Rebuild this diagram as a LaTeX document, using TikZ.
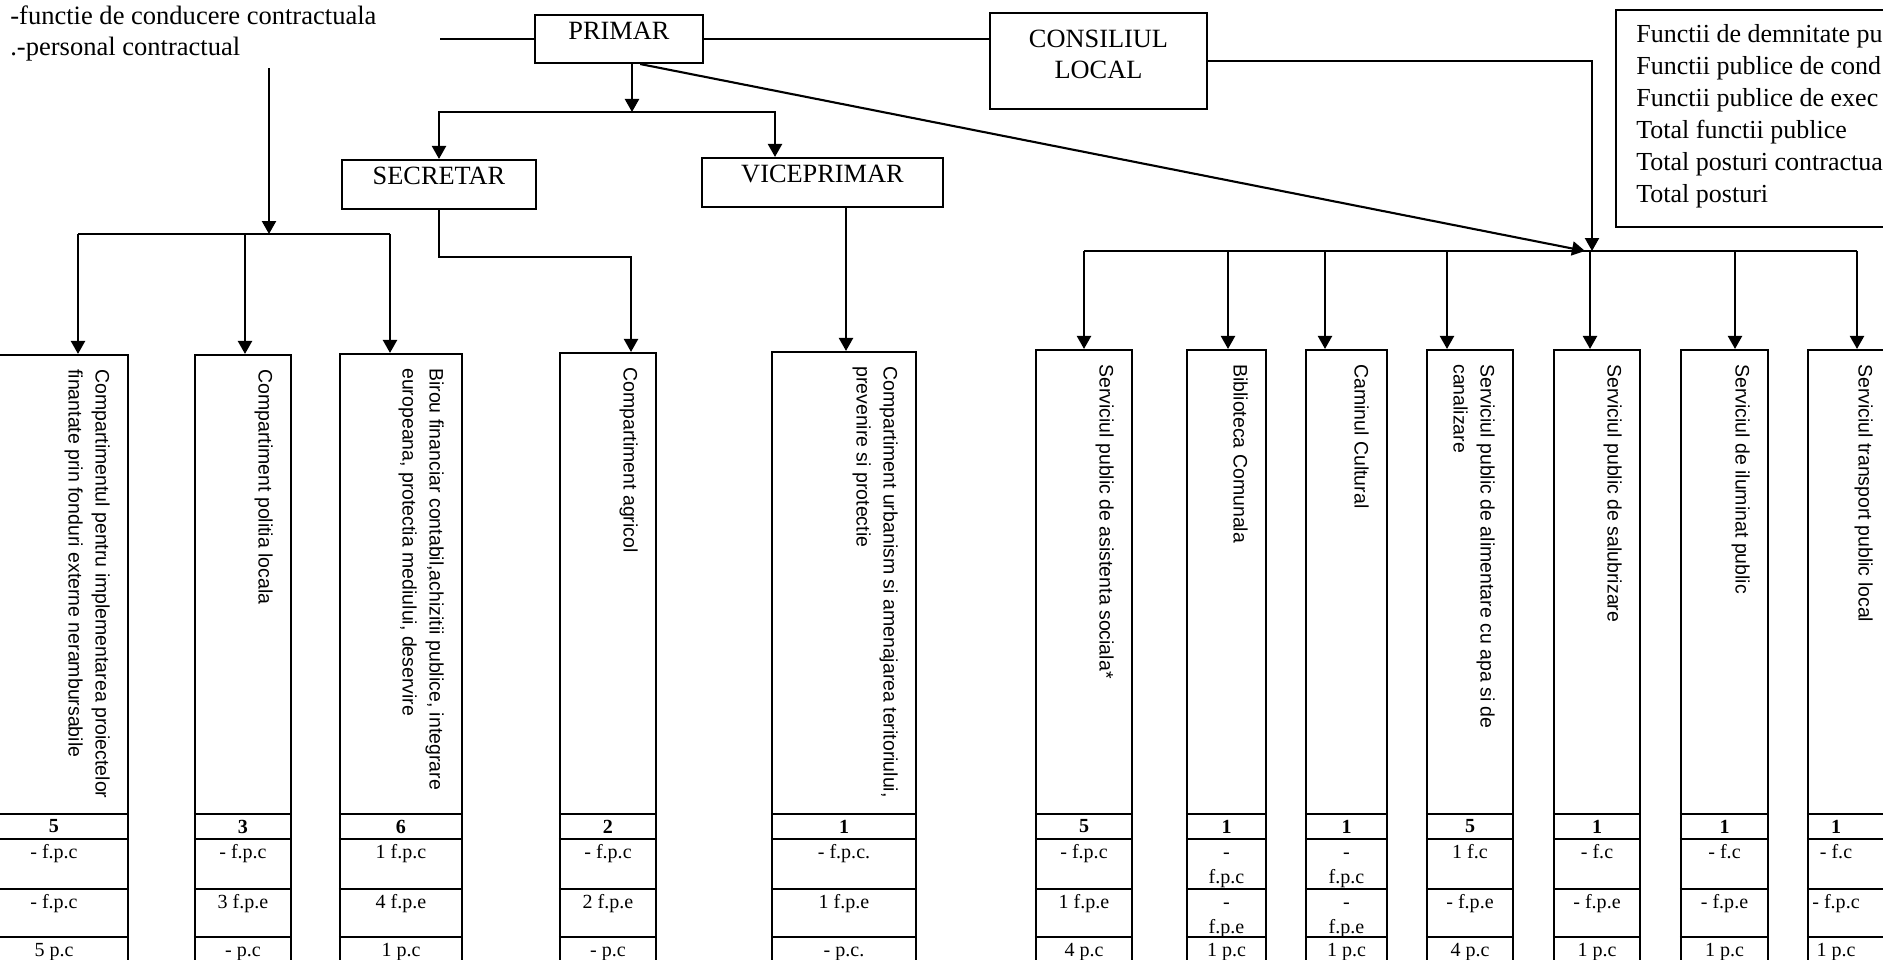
\documentclass[tikz,border=0pt]{standalone}
\usepackage{fontspec}
\setmainfont{Liberation Serif}
\newfontfamily\arialf{Liberation Sans}
\usetikzlibrary{arrows.meta,fit,calc}

\tikzset{
  ln/.style={line width=1.2pt},
  arr/.style={ln,-{Triangle[length=7.4pt,width=8pt]}},
  headbox/.style={draw,ln,inner sep=0pt,font=\fontsize{15}{17.6}\selectfont},
  unitbox/.style={draw,ln,inner sep=0pt},
  lbl/.style={rotate=-90,anchor=north west,inner sep=0pt,align=left,font=\arialf\fontsize{11.1}{15.4}\selectfont},
  numtxt/.style={inner sep=0pt,font=\bfseries\fontsize{11.4}{14}\selectfont},
  celltxt/.style={inner sep=0pt,anchor=north,align=center,font=\fontsize{11.4}{14.2}\selectfont},
  toptxt/.style={anchor=base west,inner sep=0pt,font=\fontsize{15.1}{18}\selectfont},
  legtxt/.style={anchor=north west,inner sep=0pt,align=left,font=\fontsize{14.8}{18.2}\selectfont},
}

\newcommand{\mkunit}[5]{%
  \node[unitbox,fit={(#2,#4) (#3,966)}] (#1) {};
  \coordinate (#1-c) at (#1.north);
  \node[lbl] (#1-l) at ($(#1.north east)+(-19,15)$) {#5};
  \foreach \yy in {814,839,889,937}{\draw[ln] (#1.west |- 0,\yy) -- (#1.east |- 0,\yy);}%
}
\newcommand{\mkcells}[5]{%
  \node[numtxt] (#1-n) at (#1-c |- 0,826.5) {#2};
  \node[celltxt] (#1-r1) at (#1-c |- 0,841) {\strut #3};
  \node[celltxt] (#1-r2) at (#1-c |- 0,891) {\strut #4};
  \node[celltxt] (#1-r3) at (#1-c |- 0,939) {\strut #5};
}

\begin{document}
\begin{tikzpicture}[x=0.02cm,y=-0.02cm]
\useasboundingbox (0,0) rectangle (1883,960);

% top-left notes
\node[toptxt] (t1) at (10,25) {-functie de conducere contractuala};
\node[toptxt] (t2) at (10,55) {.-personal contractual};

% head boxes
\node[headbox,fit={(535,15) (703,63)}] (primar) {PRIMAR};
\node[headbox,fit={(990,13) (1207,109)}] (cl) {};
\node[align=center,inner sep=0pt,font=\fontsize{15}{17.6}\selectfont] (clt) at (1098.5,54.5) {CONSILIUL\\LOCAL};
\node[headbox,fit={(342,160) (536,209)}] (sec) {SECRETAR};
\node[headbox,fit={(702,158) (943,207)}] (vice) {VICEPRIMAR};

% legend
\node[unitbox,fit={(1616,10) (1900,227)}] (leg) {};
\node[legtxt] (legt) at (1636,24) {Functii de demnitate pu\\Functii publice de cond\\Functii publice de exec\\Total functii publice\\Total posturi contractua\\Total posturi};

% units, left group
\mkunit{b1}{-20}{128}{355}{Compartimentul pentru implementarea proiectelor\\finantate prin fonduri externe nerambursabile}
\mkunit{b2}{195}{291}{355}{Compartiment politia locala}
\mkunit{b3}{340}{462}{354}{Birou financiar contabil,achizitii publice, integrare\\europeana, protectia mediului, deservire}
\mkunit{b4}{560}{656}{353}{Compartiment agricol}
\mkunit{b5}{772}{916}{352}{Compartiment urbanism si amenajarea teritoriului,\\prevenire si protectie}
% units, right group
\mkunit{b6}{1036}{1132}{350}{Serviciul public de asistenta sociala*}
\mkunit{b7}{1187}{1266}{350}{Biblioteca Comunala}
\mkunit{b8}{1306}{1387}{350}{Caminul Cultural}
\mkunit{b9}{1427}{1513}{350}{Serviciul public de alimentare cu apa si de\\canalizare}
\mkunit{b10}{1554}{1640}{350}{Serviciul public de salubrizare}
\mkunit{b11}{1681}{1768}{350}{Serviciul de iluminat public}
\mkunit{b12}{1808}{1891}{350}{Serviciul transport public local}
\coordinate (b12-c) at (1836,0);

\mkcells{b1}{5}{- f.p.c}{- f.p.c}{5 p.c}
\mkcells{b2}{3}{- f.p.c}{3 f.p.e}{- p.c}
\mkcells{b3}{6}{1 f.p.c}{4 f.p.e}{1 p.c}
\mkcells{b4}{2}{- f.p.c}{2 f.p.e}{- p.c}
\mkcells{b5}{1}{- f.p.c.}{1 f.p.e}{- p.c.}
\mkcells{b6}{5}{- f.p.c}{1 f.p.e}{4 p.c}
\mkcells{b7}{1}{-\\f.p.c}{-\\f.p.e}{1 p.c}
\mkcells{b8}{1}{-\\f.p.c}{-\\f.p.e}{1 p.c}
\mkcells{b9}{5}{1 f.c}{- f.p.e}{4 p.c}
\mkcells{b10}{1}{- f.c}{- f.p.e}{1 p.c}
\mkcells{b11}{1}{- f.c}{- f.p.e}{1 p.c}
\mkcells{b12}{1}{- f.c}{- f.p.c}{1 p.c}

% connectors at the top
\coordinate (ls) at (440,39);
\draw[ln] (ls) -- (primar.west);
\draw[ln] (primar.east) -- (primar.east -| cl.west);
\coordinate (jr) at (1592,251);
\coordinate (jd) at (1585,251);
\draw[arr] (cl.east) -| (jr);
\coordinate (ds) at ($(primar.south west)!0.625!(primar.south east)$);
\draw[arr] (ds) -- (jd);

\coordinate (pb) at (632,112);
\coordinate (vb) at (775,112);
\draw[arr] (primar.south -| pb) -- (pb);
\draw[arr] (pb) -| (sec.north);
\draw[arr] (pb) -- (vb) -- (vb |- vice.north);

\coordinate (sj) at (631,257);
\draw[arr] (sec.south) |- (sj) -- (sj |- b4.north);
\coordinate (vx) at (846,230);
\draw[arr] (vice.south -| vx) -- (vx |- b5.north);

% left group
\coordinate (vs) at (269,68);
\coordinate (lj) at (269,234);
\draw[arr] (vs) -- (lj);
\coordinate (a1) at (78,234);
\coordinate (a2) at (245,234);
\coordinate (a3) at (390,234);
\draw[ln] (a1) -- (a3);
\foreach \i in {1,2,3}{\draw[arr] (a\i) -- (a\i |- b\i.north);}

% right group
\coordinate (a6) at (1084,251);
\coordinate (a7) at (1228,251);
\coordinate (a8) at (1325,251);
\coordinate (a9) at (1447,251);
\coordinate (a10) at (1590,251);
\coordinate (a11) at (1735,251);
\coordinate (a12) at (1857,251);
\draw[ln] (a6) -- (a12);
\foreach \i in {6,...,12}{\draw[arr] (a\i) -- (a\i |- b\i.north);}
\end{tikzpicture}
\end{document}
